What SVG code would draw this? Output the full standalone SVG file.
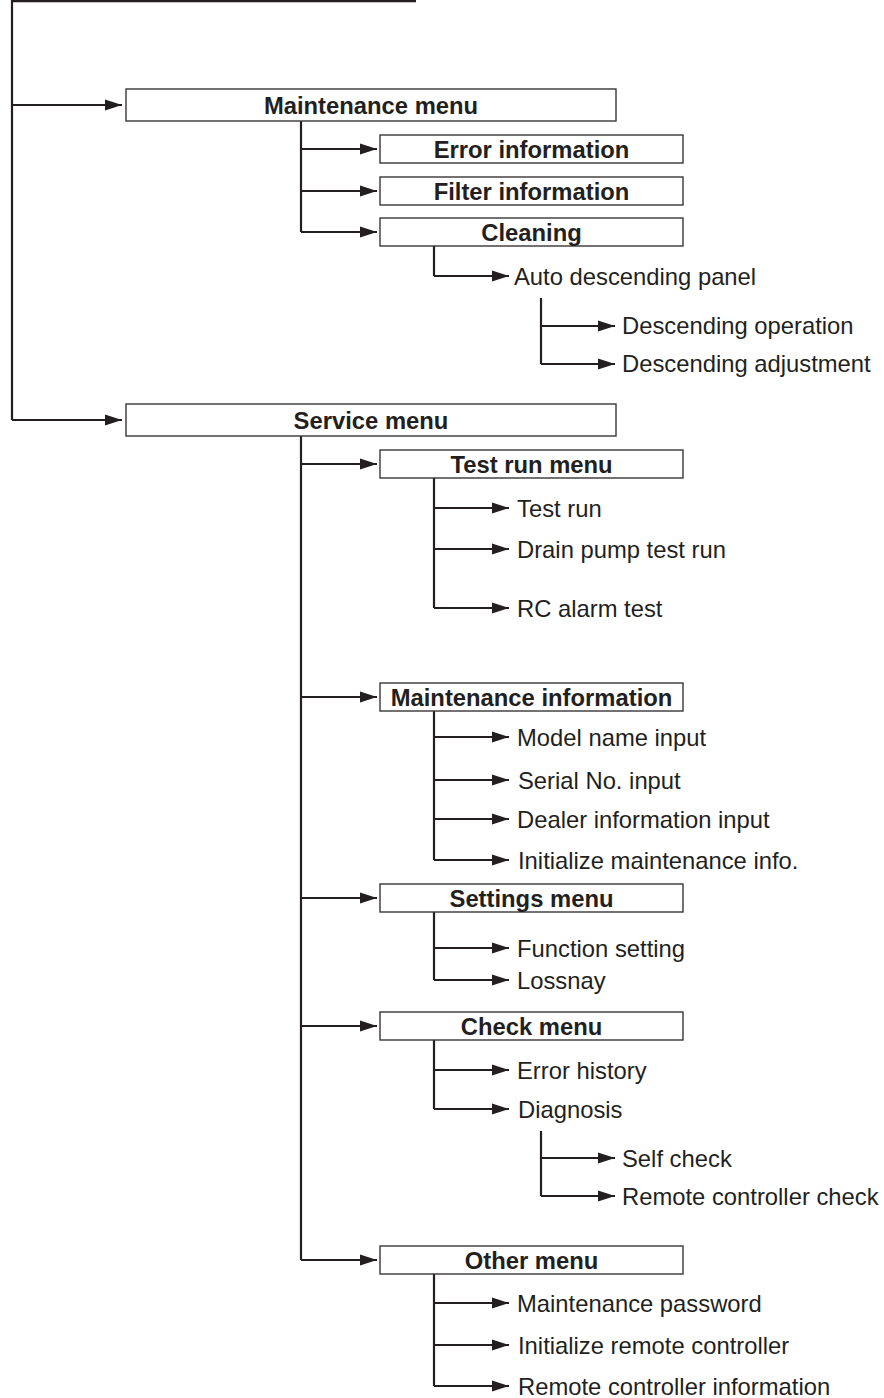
<svg xmlns="http://www.w3.org/2000/svg" width="884" height="1398" viewBox="0 0 884 1398">
<style>
.ln{fill:none;stroke:#231f20;stroke-width:2.2}
.ar{fill:none;stroke:#231f20;stroke-width:2.2;marker-end:url(#ah)}
.bx{fill:#fff;stroke:#3a3637;stroke-width:1.4}
.bt{font-family:"Liberation Sans",Arial,sans-serif;font-size:23.8px;font-weight:bold;fill:#231f20;text-anchor:middle}
.tx{font-family:"Liberation Sans",Arial,sans-serif;font-size:23.8px;fill:#231f20}
</style>
<defs>
<marker id="ah" markerUnits="userSpaceOnUse" markerWidth="18" markerHeight="12" refX="17" refY="6" orient="auto">
<path d="M0,0.5 L17,6 L0,11.5 z" fill="#231f20"/>
</marker>
</defs>
<rect width="884" height="1398" fill="#fff"/>
<g id="connectors">
<path class="ln" d="M416,1.2 H12 V420"/>
<path class="ar" d="M12,105 H122"/>
<path class="ar" d="M12,420 H122"/>
<path class="ln" d="M301,121 V232"/>
<path class="ar" d="M301,149 H377"/>
<path class="ar" d="M301,191 H377"/>
<path class="ar" d="M301,232 H377"/>
<path class="ln" d="M434,246 V276"/>
<path class="ar" d="M434,276 H509"/>
<path class="ln" d="M541,298 V364"/>
<path class="ar" d="M541,326 H615"/>
<path class="ar" d="M541,364 H615"/>
<path class="ln" d="M301,436 V1260"/>
<path class="ar" d="M301,464 H377"/>
<path class="ar" d="M301,697 H377"/>
<path class="ar" d="M301,898 H377"/>
<path class="ar" d="M301,1026 H377"/>
<path class="ar" d="M301,1260 H377"/>
<path class="ln" d="M434,478 V608"/>
<path class="ar" d="M434,508 H509"/>
<path class="ar" d="M434,549 H509"/>
<path class="ar" d="M434,608 H509"/>
<path class="ln" d="M434,711 V860"/>
<path class="ar" d="M434,737 H509"/>
<path class="ar" d="M434,780 H509"/>
<path class="ar" d="M434,819 H509"/>
<path class="ar" d="M434,860 H509"/>
<path class="ln" d="M434,912 V980"/>
<path class="ar" d="M434,948 H509"/>
<path class="ar" d="M434,980 H509"/>
<path class="ln" d="M434,1040 V1109"/>
<path class="ar" d="M434,1070 H509"/>
<path class="ar" d="M434,1109 H509"/>
<path class="ln" d="M541,1131 V1196"/>
<path class="ar" d="M541,1158 H615"/>
<path class="ar" d="M541,1196 H615"/>
<path class="ln" d="M434,1274 V1386"/>
<path class="ar" d="M434,1303 H509"/>
<path class="ar" d="M434,1345 H509"/>
<path class="ar" d="M434,1386 H509"/>
</g>
<g id="maintenance-menu"><rect class="bx" x="126" y="89" width="490" height="32"/><text class="bt" x="371" y="113.5">Maintenance menu</text></g>
<g id="error-information"><rect class="bx" x="380" y="135" width="303" height="28"/><text class="bt" x="531.5" y="157.5">Error information</text></g>
<g id="filter-information"><rect class="bx" x="380" y="177" width="303" height="28"/><text class="bt" x="531.5" y="199.5">Filter information</text></g>
<g id="cleaning"><rect class="bx" x="380" y="218" width="303" height="28"/><text class="bt" x="531.5" y="240.5">Cleaning</text></g>
<g id="auto-descending-panel"><text class="tx" x="514" y="284.5">Auto descending panel</text></g>
<g id="descending-operation"><text class="tx" x="622" y="334">Descending operation</text></g>
<g id="descending-adjustment"><text class="tx" x="622" y="372">Descending adjustment</text></g>
<g id="service-menu"><rect class="bx" x="126" y="404" width="490" height="32"/><text class="bt" x="371" y="428.5">Service menu</text></g>
<g id="test-run-menu"><rect class="bx" x="380" y="450" width="303" height="28"/><text class="bt" x="531.5" y="472.5">Test run menu</text></g>
<g id="test-run"><text class="tx" x="517" y="516.5">Test run</text></g>
<g id="drain-pump-test-run"><text class="tx" x="517" y="557.5">Drain pump test run</text></g>
<g id="rc-alarm-test"><text class="tx" x="517" y="616.5">RC alarm test</text></g>
<g id="maintenance-information"><rect class="bx" x="380" y="683" width="303" height="28"/><text class="bt" x="531.5" y="705.5">Maintenance information</text></g>
<g id="model-name-input"><text class="tx" x="517" y="745.5">Model name input</text></g>
<g id="serial-no-input"><text class="tx" x="518" y="788.5">Serial No. input</text></g>
<g id="dealer-information-input"><text class="tx" x="517" y="827.5">Dealer information input</text></g>
<g id="initialize-maintenance-info"><text class="tx" x="518" y="868.5">Initialize maintenance info.</text></g>
<g id="settings-menu"><rect class="bx" x="380" y="884" width="303" height="28"/><text class="bt" x="531.5" y="906.5">Settings menu</text></g>
<g id="function-setting"><text class="tx" x="517" y="956.5">Function setting</text></g>
<g id="lossnay"><text class="tx" x="517" y="988.5">Lossnay</text></g>
<g id="check-menu"><rect class="bx" x="380" y="1012" width="303" height="28"/><text class="bt" x="531.5" y="1034.5">Check menu</text></g>
<g id="error-history"><text class="tx" x="517" y="1078.5">Error history</text></g>
<g id="diagnosis"><text class="tx" x="518" y="1117.5">Diagnosis</text></g>
<g id="self-check"><text class="tx" x="622" y="1166.5">Self check</text></g>
<g id="remote-controller-check"><text class="tx" x="622" y="1204.5">Remote controller check</text></g>
<g id="other-menu"><rect class="bx" x="380" y="1246" width="303" height="28"/><text class="bt" x="531.5" y="1268.5">Other menu</text></g>
<g id="maintenance-password"><text class="tx" x="517" y="1311.5">Maintenance password</text></g>
<g id="initialize-remote-controller"><text class="tx" x="518" y="1353.5">Initialize remote controller</text></g>
<g id="remote-controller-information"><text class="tx" x="518" y="1394.5">Remote controller information</text></g>
</svg>
